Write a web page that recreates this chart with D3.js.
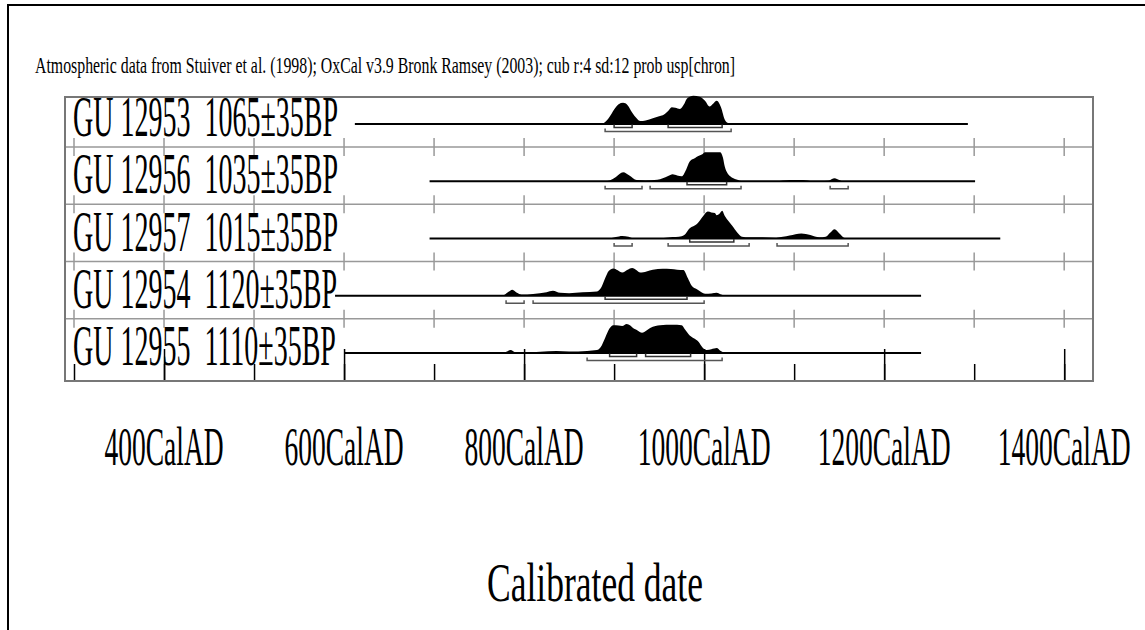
<!DOCTYPE html>
<html>
<head>
<meta charset="utf-8">
<script src="https://cdn.jsdelivr.net/npm/d3@7"></script>
<style>
  body { margin: 0; background: #fff; }
  svg { display: block; }
</style>
</head>
<body>
<div id="chart"></div>
<script>
// header / titles
const headerText = "Atmospheric data from Stuiver et al. (1998); OxCal v3.9 Bronk Ramsey (2003); cub r:4 sd:12 prob usp[chron]";
const axisTitle = "Calibrated date";

// one entry per sample, top to bottom
const sampleLabels = [
  "GU 12953  1065±35BP",
  "GU 12956  1035±35BP",
  "GU 12957  1015±35BP",
  "GU 12954  1120±35BP",
  "GU 12955  1110±35BP"
];

// extent of the baseline line (cal AD)
const spans = [[612, 1293], [695, 1301], [695, 1329], [590, 1241], [601, 1241]];

// probability curves, [year AD, relative density]
const dens12953 = [[880,0],[888,0.03],[895,0.25],[900,0.5],[905,0.68],[910,0.73],[915,0.65],[920,0.4],[925,0.2],[929,0.1],[935,0.12],[943,0.2],[950,0.27],[954,0.3],[960,0.45],[964,0.58],[968,0.56],[973,0.52],[978,0.7],[981,0.88],[988,0.97],[995,0.94],[1001,0.8],[1006,0.6],[1010,0.7],[1014,0.8],[1019,0.55],[1023,0.15],[1027,0.03],[1032,0]];
const dens12956 = [[890,0],[895,0.03],[902,0.15],[910,0.31],[917,0.2],[925,0.04],[935,0.03],[948,0.05],[954,0.1],[960,0.18],[965,0.24],[970,0.2],[975,0.17],[980,0.4],[984,0.68],[990,0.8],[993,0.86],[998,0.93],[1001,1],[1010,1],[1018,1],[1021,0.8],[1023,0.5],[1029,0.17],[1036,0.06],[1043,0],[1080,0],[1095,0.04],[1110,0.04],[1120,0],[1138,0.02],[1145,0.1],[1150,0.04],[1153,0]];
const dens12957 = [[895,0],[902,0.05],[909,0.09],[916,0.06],[922,0],[955,0.02],[965,0.05],[972,0.06],[978,0.12],[984,0.35],[992,0.5],[999,0.78],[1004,0.93],[1008,0.9],[1012,0.88],[1014,0.8],[1017,0.85],[1020,0.96],[1023,0.78],[1027,0.6],[1031,0.45],[1037,0.2],[1042,0.06],[1050,0.04],[1065,0.04],[1080,0.03],[1095,0.1],[1108,0.17],[1118,0.12],[1128,0.04],[1135,0.06],[1140,0.2],[1145,0.32],[1150,0.18],[1156,0.02],[1160,0]];
const dens12954 = [[770,0],[777,0.02],[782,0.12],[787,0.21],[792,0.1],[797,0.04],[810,0.06],[825,0.12],[832,0.17],[840,0.1],[850,0.09],[865,0.12],[881,0.15],[886,0.3],[890,0.6],[894,0.85],[899,0.94],[904,0.88],[909,0.8],[915,0.9],[920,0.96],[925,0.88],[929,0.8],[936,0.84],[943,0.9],[954,0.93],[963,0.92],[970,0.9],[977,0.89],[982,0.6],[986,0.35],[992,0.22],[997,0.12],[1001,0.07],[1008,0.08],[1014,0.1],[1018,0.05],[1023,0]];
const dens12955 = [[773,0],[779,0.03],[785,0.1],[790,0.03],[800,0.02],[818,0.04],[836,0.07],[850,0.05],[870,0.07],[881,0.1],[885,0.2],[890,0.52],[895,0.85],[899,0.96],[905,0.95],[909,0.93],[914,1],[918,0.95],[921,0.86],[926,0.78],[931,0.7],[936,0.78],[940,0.86],[946,0.93],[951,0.96],[965,0.97],[975,0.96],[979,0.8],[984,0.6],[990,0.48],[994,0.38],[998,0.2],[1003,0.1],[1008,0.13],[1014,0.17],[1018,0.08],[1023,0]];
const densities = [dens12953, dens12956, dens12957, dens12954, dens12955];

// 68.2% and 95.4% ranges
const inner = [[[900,920],[960,1020]], [[981,1025]], [[984,1033]], [[890,981]], [[895,925],[935,985]]];
const outer = [[[890,1030]], [[890,931],[940,1041],[1140,1160]], [[900,920],[960,1050],[1081,1160]], [[780,800],[810,1000]], [[870,1020]]];

const tickYears = [300, 400, 500, 600, 700, 800, 900, 1000, 1100, 1200, 1300, 1400];
const labelYears = [400, 600, 800, 1000, 1200, 1400];

const W = 1145, H = 630;
const frame = { left: 65, right: 1093, top: 97, bottom: 381 };
const rowStep = 57.25;
const firstBase = 124;
const font = "'Liberation Serif', 'Times New Roman', serif";

const svg = d3.select("#chart").append("svg")
  .attr("width", W)
  .attr("height", H);

const x = d3.scaleLinear().domain([290, 1432]).range([frame.left, frame.right]);
const h = d3.scaleLinear().domain([0, 1]).range([0, 29]);

// page border (top + left)
svg.append("path")
  .attr("d", `M8,${H} L8,5 L${W},5`)
  .attr("fill", "none")
  .attr("stroke", "#000")
  .attr("stroke-width", 2);

// header line
svg.append("text")
  .attr("x", 35)
  .attr("y", 73)
  .attr("font-family", font)
  .attr("font-size", 23)
  .attr("textLength", 700)
  .attr("lengthAdjust", "spacingAndGlyphs")
  .text(headerText);

// row separators with gray ticks
const sepYs = sampleLabels.slice(1).map((d, i) => firstBase + 23 + i * rowStep);
const grid = svg.append("g");
sepYs.forEach((sy) => {
  grid.append("line")
    .attr("x1", frame.left).attr("x2", frame.right)
    .attr("y1", sy).attr("y2", sy)
    .attr("stroke", "#999").attr("stroke-width", 1.5);
  grid.selectAll(null)
    .data(tickYears)
    .join("line")
    .attr("x1", (d) => x(d)).attr("x2", (d) => x(d))
    .attr("y1", sy - 9).attr("y2", sy + 9)
    .attr("stroke", "#999").attr("stroke-width", 1.5);
});

// bottom ticks via axes (minor short, labelled long)
const axisG = svg.append("g").attr("transform", `translate(0,${frame.bottom})`);
axisG.call(d3.axisTop(x).tickValues(tickYears).tickSize(17).tickFormat(""));
axisG.append("g").call(d3.axisTop(x).tickValues(labelYears).tickSize(32).tickFormat(""));
axisG.selectAll(".domain").remove();
axisG.selectAll(".tick line").attr("stroke", "#000").attr("stroke-width", 1.5);

// frame
svg.append("rect")
  .attr("x", frame.left).attr("y", frame.top)
  .attr("width", frame.right - frame.left)
  .attr("height", frame.bottom - frame.top)
  .attr("fill", "none")
  .attr("stroke", "#777")
  .attr("stroke-width", 2);

const area = d3.area()
  .x((d) => x(d[0]))
  .y0(0)
  .y1((d) => -h(d[1]))
  .curve(d3.curveMonotoneX);

const rows = svg.selectAll("g.row")
  .data(sampleLabels)
  .join("g")
  .attr("class", "row")
  .attr("transform", (d, i) => `translate(0,${firstBase + i * rowStep})`);

// labels
rows.append("g")
  .attr("transform", "translate(73,12) scale(0.5,1)")
  .append("text")
  .attr("font-family", font)
  .attr("font-size", 56)
  .style("white-space", "pre")
  .text((d) => d);

// baseline
rows.append("line")
  .attr("x1", (d, i) => x(spans[i][0]))
  .attr("x2", (d, i) => x(spans[i][1]))
  .attr("stroke", "#000")
  .attr("stroke-width", 2);

// density
rows.append("path")
  .attr("d", (d, i) => area(densities[i]))
  .attr("fill", "#000");

// range brackets
const bracket = (r, yy) =>
  `M${x(r[0])},${yy - 3} L${x(r[0])},${yy} L${x(r[1])},${yy} L${x(r[1])},${yy - 3}`;

rows.each(function (d, i) {
  const g = d3.select(this);
  g.selectAll("path.inner")
    .data(inner[i])
    .join("path")
    .attr("class", "inner")
    .attr("d", (r) => bracket(r, 3.5))
    .attr("fill", "none")
    .attr("stroke", "#333")
    .attr("stroke-width", 1.5);
  g.selectAll("path.outer")
    .data(outer[i])
    .join("path")
    .attr("class", "outer")
    .attr("d", (r) => bracket(r, 7.5))
    .attr("fill", "none")
    .attr("stroke", "#555")
    .attr("stroke-width", 1.5);
});

// axis labels
svg.selectAll("g.xlab")
  .data(labelYears)
  .join("g")
  .attr("class", "xlab")
  .attr("transform", (d) => `translate(${x(d)},465) scale(0.5,1)`)
  .append("text")
  .attr("text-anchor", "middle")
  .attr("font-family", font)
  .attr("font-size", 55)
  .text((d) => d + "CalAD");

svg.append("text")
  .attr("x", 487)
  .attr("y", 601)
  .attr("font-family", font)
  .attr("font-size", 55)
  .attr("textLength", 216)
  .attr("lengthAdjust", "spacingAndGlyphs")
  .text(axisTitle);
</script>
</body>
</html>
